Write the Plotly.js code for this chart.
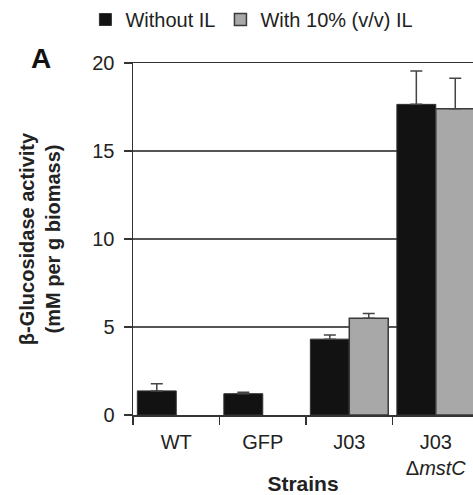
<!DOCTYPE html>
<html>
<head>
<meta charset="utf-8">
<script src="https://cdn.plot.ly/plotly-3.0.1.min.js"></script>
<style>html,body{margin:0;padding:0;background:#fff;overflow:hidden}#chart{width:473px;height:495px}</style>
</head>
<body>
<div id="chart"></div>
<script>
const strains = ["WT", "GFP", "J03", "J03<br>Δ<i>mstC</i>"];
const withoutIL = [1.37, 1.21, 4.31, 17.65];
const withoutILErr = [0.41, 0.08, 0.24, 1.9];
const withIL = [null, null, 5.50, 17.4];
const withILErr = [0, 0, 0.27, 1.74];
const seriesNames = ["Without IL", "With 10% (v/v) IL"];
const yTicks = [0, 5, 10, 15, 20];

const font = "Liberation Sans, Arial, sans-serif";
const zeros = strains.map(() => 0);

const traces = [
  {
    type: "bar", name: seriesNames[0], x: strains, y: withoutIL,
    marker: {color: "#121212", line: {color: "#333", width: 1}},
    error_y: {type: "data", array: withoutILErr, arrayminus: zeros, symmetric: false,
              color: "#444", thickness: 1.5, width: 6}
  },
  {
    type: "bar", name: seriesNames[1], x: strains, y: withIL,
    marker: {color: "#a8a8a8", line: {color: "#3a3a3a", width: 1.5}},
    error_y: {type: "data", array: withILErr, arrayminus: zeros, symmetric: false,
              color: "#444", thickness: 1.5, width: 6}
  }
];

const layout = {
  width: 473, height: 495,
  margin: {l: 133, r: 0, t: 62, b: 80},
  paper_bgcolor: "#fff", plot_bgcolor: "#fff",
  font: {family: font, color: "#222", size: 20},
  barmode: "group", bargap: 0.1, bargroupgap: 0,
  showlegend: true,
  legend: {orientation: "h", x: -0.14, xanchor: "left", y: 1.125, yanchor: "middle",
           font: {family: font, size: 20, color: "#222"}, traceorder: "normal",
           itemclick: false},
  xaxis: {
    type: "category", range: [-0.5, 3.43], fixedrange: true,
    showline: true, linecolor: "#333", linewidth: 1.5, mirror: true,
    ticks: "outside", tickson: "boundaries", ticklen: 8, tickwidth: 1.5, tickcolor: "#333",
    ticklabelstandoff: 8,
    tickfont: {family: font, size: 20, color: "#222"},
    showgrid: false, automargin: false,
    title: {text: "<b>Strains</b>", font: {family: font, size: 21, color: "#222"}, standoff: 6}
  },
  yaxis: {
    range: [0, 20], fixedrange: true, tickvals: yTicks, ticktext: yTicks.map(String),
    showline: true, linecolor: "#333", linewidth: 1.5,
    ticks: "outside", ticklen: 8, tickwidth: 1.5, tickcolor: "#333",
    ticklabelstandoff: 5,
    tickfont: {family: font, size: 20, color: "#222"},
    showgrid: true, gridcolor: "#555", gridwidth: 1.5, zeroline: false, automargin: false,
    title: {text: "<b>β-Glucosidase activity<br>(mM per g biomass)</b>",
            font: {family: font, size: 20, color: "#222"}, standoff: 26}
  },
  annotations: [
    {text: "<b>A</b>", xref: "paper", yref: "paper", x: -0.27, y: 1.014, xanchor: "center",
     yanchor: "middle", showarrow: false, font: {family: font, size: 28, color: "#111"}}
  ]
};

Plotly.newPlot("chart", traces, layout, {displayModeBar: false, staticPlot: true});
</script>
</body>
</html>
